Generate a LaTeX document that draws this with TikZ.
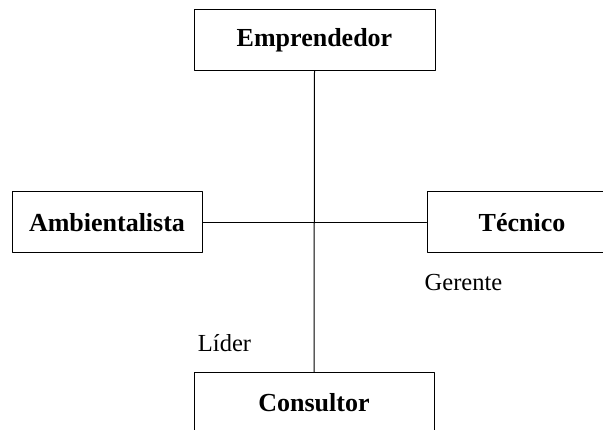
\documentclass[tikz,border=0pt]{standalone}
\usepackage{fontspec}
\setmainfont{Liberation Serif}
\usepackage{tikz}
\usetikzlibrary{positioning}

\tikzset{
    caja/.style={draw, line width=1pt, minimum height=61pt, inner sep=0pt,
        font=\fontsize{26}{30}\selectfont\bfseries},
    rotulo/.style={inner sep=0pt, font=\fontsize{24.5}{28}\selectfont}
}

\begin{document}
\begin{tikzpicture}[x=1pt, y=-1pt, line cap=round, line join=round]
    \useasboundingbox (0,0) rectangle (603,430);

    % Boxes
    \node[caja, minimum width=241pt] (emprendedor) at (314.5,40) {Emprendedor};
    \node[caja, minimum width=190pt] (ambientalista) at (107,222.5) {Ambientalista};
    \node[caja, minimum width=190pt] (tecnico) at (522,222.5) {T\'ecnico};
    \node[caja, minimum width=240pt] (consultor) at (314,403) {Consultor};

    % Labels
    \node[rotulo] (gerente) at (463.5,283) {Gerente};
    \node[rotulo] (lider) at (224.5,343) {L\'ider};

    % Connectors
    \draw[line width=1pt] (emprendedor.south) -- (consultor.north);
    \draw[line width=1pt] (ambientalista.east) -- (tecnico.west);

\end{tikzpicture}
\end{document}
